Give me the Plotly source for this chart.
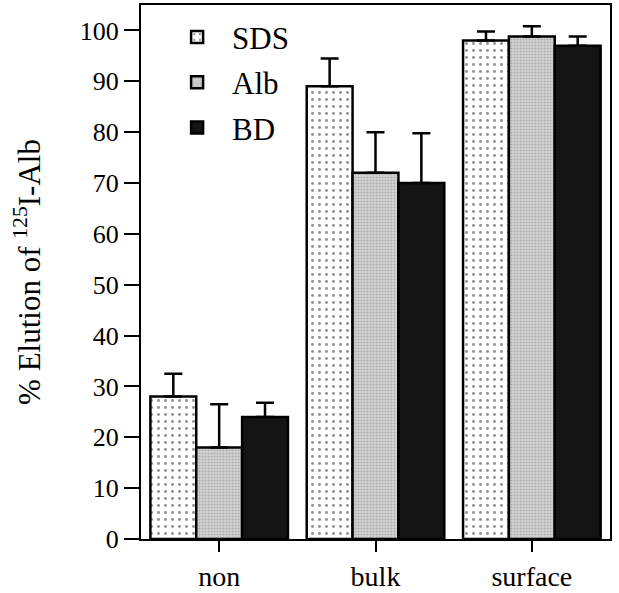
import plotly.graph_objects as go

categories = ["non", "bulk", "surface"]
series_names = ["SDS", "Alb", "BD"]
sds_vals = [28, 89, 98]
alb_vals = [18, 72, 98.8]
bd_vals = [24, 70, 97]
sds_err = [4.5, 5.5, 1.8]
alb_err = [8.5, 8, 2]
bd_err = [2.8, 9.8, 1.8]
y_ticks = [0, 10, 20, 30, 40, 50, 60, 70, 80, 90, 100]

FONT = "Liberation Serif, Times New Roman, serif"

styles = {
    "SDS": dict(color="white", pattern=dict(shape=".", bgcolor="white", fgcolor="#222", size=7, solidity=0.14, fillmode="overlay")),
    "Alb": dict(color="#cfcfcf", pattern=dict(shape=".", bgcolor="#d4d4d4", fgcolor="#8a8a8a", size=3, solidity=0.4, fillmode="overlay")),
    "BD": dict(color="#141414", pattern=None),
}

fig = go.Figure()
for name, vals, errs in zip(series_names, [sds_vals, alb_vals, bd_vals], [sds_err, alb_err, bd_err]):
    st = styles[name]
    marker = dict(color=st["color"], line=dict(color="black", width=2.5))
    if st["pattern"] is not None:
        marker["pattern"] = st["pattern"]
    fig.add_trace(go.Bar(
        name=name, x=categories, y=vals, marker=marker, legendgroup=name,
        error_y=dict(type="data", array=errs, arrayminus=[0] * len(errs), symmetric=False,
                     color="black", thickness=2.5, width=9),
    ))

fig.update_layout(
    width=619, height=593,
    margin=dict(l=141, r=9, t=5, b=54),
    paper_bgcolor="white", plot_bgcolor="white",
    barmode="group", bargap=0.12, bargroupgap=0,
    font=dict(family=FONT, color="black", size=24),
    legend=dict(x=0.045, y=0.99, xanchor="left", yanchor="top",
                font=dict(family=FONT, size=31), bgcolor="rgba(0,0,0,0)",
                tracegroupgap=2, itemwidth=60),
    showlegend=True,
)
fig.update_xaxes(
    showline=True, linecolor="black", linewidth=2, mirror=True,
    ticks="outside", ticklen=11, tickwidth=2, tickcolor="black",
    tickfont=dict(family=FONT, size=28), showgrid=False, automargin=False,
)
fig.update_yaxes(
    range=[0, 105], tickvals=y_ticks, showline=True, linecolor="black", linewidth=2, mirror=True,
    ticks="outside", ticklen=15, tickwidth=2, tickcolor="black",
    tickfont=dict(family=FONT, size=26), showgrid=False, zeroline=False, automargin=False,
    title=dict(text="% Elution of <sup>125</sup>I-Alb", font=dict(family=FONT, size=31), standoff=30),
)

fig.write_html("out.html")
